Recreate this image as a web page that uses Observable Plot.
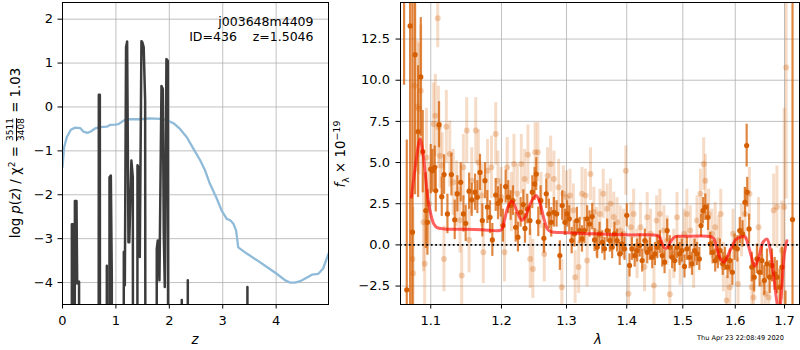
<!DOCTYPE html>
<html>
<head>
<meta charset="utf-8">
<script src="https://cdn.jsdelivr.net/npm/d3@7"></script>
<script src="https://cdn.jsdelivr.net/npm/@observablehq/plot@0.6"></script>
<style>
  html, body { margin: 0; padding: 0; background: #fff; }
  #wrap { position: relative; width: 800px; height: 350px; font-family: "DejaVu Sans", sans-serif; color: #000; overflow: hidden; }
  #wrap svg { position: absolute; top: 0; }
  .lab { position: absolute; white-space: nowrap; font-size: 13.3px; line-height: 1; }
  .rot { transform: translate(-50%, -50%) rotate(-90deg); }
  .frac { display: inline-flex; flex-direction: column; vertical-align: middle; font-size: 9px; line-height: 1; text-align: center; margin: 0 1px; }
  .frac span:first-child { border-bottom: 0.8px solid #000; padding-bottom: 0.5px; }
  .frac span:last-child { padding-top: 0.5px; }
</style>
</head>
<body>
<div id="wrap"></div>
<script>
// ---------------- Left panel: p(z) ----------------
const zTicks = [0, 1, 2, 3, 4];
const logpTicks = [-4, -3, -2, -1, 0, 1, 2];

// prior curve (blue)
const priorZ = [0, 0.03, 0.08, 0.156, 0.237, 0.33, 0.39, 0.468, 0.53, 0.61, 0.705, 0.83, 0.89, 0.986, 1.05, 1.14, 1.235, 1.45, 1.64, 1.83, 1.95, 2.077, 2.2, 2.327, 2.45, 2.58, 2.67, 2.76, 2.89, 2.98, 3.075, 3.14, 3.2, 3.25, 3.29, 3.45, 3.64, 3.82, 4.01, 4.17, 4.26, 4.35, 4.45, 4.57, 4.67, 4.79, 4.88, 4.98];
const priorLogp = [-1.37, -0.92, -0.69, -0.52, -0.47, -0.48, -0.56, -0.59, -0.56, -0.49, -0.46, -0.45, -0.41, -0.40, -0.39, -0.31, -0.28, -0.28, -0.26, -0.27, -0.30, -0.37, -0.50, -0.69, -0.95, -1.22, -1.45, -1.75, -2.09, -2.36, -2.55, -2.58, -2.66, -2.81, -3.20, -3.34, -3.49, -3.64, -3.80, -3.95, -4.00, -4.00, -3.97, -3.89, -3.82, -3.80, -3.68, -3.34];

// posterior log p(z) (black)
const pzZ = [0, 0.17, 0.175, 0.2, 0.212, 0.232, 0.262, 0.275, 0.31, 0.33, 0.665, 0.68, 0.699, 0.712, 0.82, 0.83, 0.84, 0.872, 0.88, 0.905, 0.923, 0.935, 1.13, 1.148, 1.167, 1.19, 1.21, 1.235, 1.25, 1.29, 1.316, 1.34, 1.39, 1.404, 1.425, 1.447, 1.478, 1.497, 1.52, 1.547, 1.57, 1.75, 1.765, 1.784, 1.815, 1.853, 1.878, 1.896, 1.915, 1.946, 1.971, 2.0, 2.225, 2.233, 2.24, 2.34, 2.346, 2.355, 3.455, 3.462, 3.47, 4.98];
const pzLogp = [-30, -30, -2.67, -2.67, -30, -2.14, -2.14, -4.02, -3.98, -30, -30, 0.28, 0.28, -30, -30, -3.62, -30, -30, -1.6, -1.56, -3.87, -30, -30, -3.3, -4.06, 1.36, 1.49, -3.08, -3.08, -1.22, -1.6, -30, -30, -1.33, -1.38, -3.42, 1.5, 1.47, 1.36, 0.14, -30, -30, -3.23, -3.04, -3.95, 0.48, 0.41, -2.89, -4.1, 1.09, 1.05, -30, -30, -4.4, -30, -30, -3.95, -30, -30, -4.1, -30, -30];

const annotLines = ["j003648m4409", "ID=436\u00a0\u00a0\u00a0\u00a0z=1.5046"];

// ---------------- Right panel: spectrum ----------------
const lamTicks = [1.1, 1.2, 1.3, 1.4, 1.5, 1.6, 1.7];
const fluxTicks = [-2.5, 0, 2.5, 5, 7.5, 10, 12.5];

// darker spectrum points
const lamD = [1.0645, 1.0680, 1.0724, 1.0755, 1.0790, 1.0830, 1.0866, 1.0892, 1.0933, 1.0955, 1.1000, 1.1023, 1.1054, 1.1068, 1.1113, 1.1150, 1.1182, 1.1228, 1.1283, 1.1329, 1.1366, 1.1413, 1.1451, 1.1483, 1.1531, 1.1568, 1.1616, 1.1649, 1.1687, 1.1721, 1.1759, 1.1793, 1.1832, 1.1866, 1.1915, 1.1949, 1.1988, 1.2022, 1.2062, 1.2101, 1.2136, 1.2171, 1.2211, 1.2246, 1.2286, 1.2327, 1.2352, 1.2387, 1.2428, 1.2464, 1.2499, 1.2525, 1.2556, 1.2592, 1.2643, 1.2680, 1.2721, 1.2758, 1.2800, 1.2842, 1.2894, 1.2931, 1.2974, 1.3011, 1.3044, 1.3083, 1.3128, 1.3167, 1.3211, 1.3250, 1.3289, 1.3334, 1.3373, 1.3417, 1.3456, 1.3500, 1.3539, 1.3584, 1.3623, 1.3667, 1.3712, 1.3751, 1.3790, 1.3834, 1.3879, 1.3918, 1.3962, 1.4000, 1.4048, 1.4089, 1.4137, 1.4179, 1.4226, 1.4268, 1.4315, 1.4357, 1.4405, 1.4446, 1.4494, 1.4536, 1.4583, 1.4625, 1.4667, 1.4714, 1.4762, 1.4804, 1.4851, 1.4893, 1.4940, 1.4982, 1.5031, 1.5075, 1.5126, 1.5170, 1.5220, 1.5264, 1.5308, 1.5340, 1.5377, 1.5421, 1.5472, 1.5516, 1.5560, 1.5610, 1.5660, 1.5704, 1.5755, 1.5799, 1.5849, 1.5893, 1.5943, 1.5987, 1.6041, 1.6089, 1.6144, 1.6192, 1.6226, 1.6237, 1.6274, 1.6329, 1.6377, 1.6432, 1.6486, 1.6534, 1.6582, 1.6637, 1.6692, 1.6740, 1.6795, 1.6842, 1.6897, 1.6945, 1.7020, 1.7168];
const fluxD = [22.0, -2.73, 13.3, 0.77, 11.55, 6.88, 10.2, 5.66, 2.08, 1.37, 4.6, 4.5, 4.71, 3.3, 7.3, 2.93, 4.27, 1.88, 4.27, 1.52, 3.1, 3.8, 1.88, 1.31, 3.26, 2.73, 3.2, 2.9, 4.4, 1.48, 3.9, 2.3, 1.68, 0.3, 3.03, 2.53, 2.69, 1.17, 3.54, 2.9, 2.39, 2.69, 1.07, 0.47, 1.98, 2.45, 1.0, 2.18, 1.48, 3.2, 3.7, 4.3, 1.4, 2.69, 0.4, 3.1, 1.88, 1.37, 1.98, 1.88, -0.65, 2.39, 1.37, 1.88, 1.58, 0.26, 0.67, 1.48, 0.87, 0.36, 0.87, 1.58, 1.27, 1.72, 0.3, -0.14, 0.67, 0.16, -0.24, 0.87, 0.26, -0.14, 0.67, 0.26, -0.55, 0.06, -0.24, 1.8, -1.25, -0.24, -0.65, -0.34, -0.04, -0.95, 0.26, -0.45, -0.24, -0.75, -0.55, -0.14, 0.16, -0.65, -1.05, 0.87, -0.14, -0.75, -0.95, -0.14, -0.55, -0.34, -1.31, -0.24, -0.75, -1.15, -0.34, -0.55, -0.85, 1.17, 2.08, 2.29, 1.68, 0.06, -0.45, -0.95, -0.75, -0.34, -1.15, -0.85, -1.35, -0.95, -1.66, -0.14, -0.24, 0.87, 0.67, 2.59, 6.03, 3.2, 0.97, -1.35, -1.96, -0.85, -1.66, -0.95, -2.16, -1.15, -1.96, -1.25, -1.76, -1.96, -2.57, -1.35, -5.0, 1.54];
const errD = [12.3, 9.1, 18, 15, 8.5, 4, 3.6, 2.5, 2.3, 2.0, 1.5, 1.3, 1.3, 1.3, 1.4, 1.2, 1.2, 1.2, 1.3, 1.2, 1.1, 1.2, 1.1, 1.1, 1.1, 1.0, 1.1, 1.0, 1.1, 1.0, 1.1, 1.0, 1.0, 1.0, 1.0, 1.0, 1.0, 1.0, 1.0, 1.0, 0.9, 0.9, 0.9, 0.9, 0.9, 0.9, 0.9, 0.9, 0.9, 1.0, 1.0, 1.0, 0.9, 0.9, 0.9, 0.9, 0.9, 0.9, 0.9, 0.8, 0.9, 0.9, 0.8, 0.8, 0.8, 0.8, 0.8, 0.8, 0.8, 0.8, 0.8, 0.8, 0.8, 0.8, 0.7, 0.7, 0.7, 0.7, 0.7, 0.7, 0.7, 0.7, 0.7, 0.7, 0.7, 0.7, 0.7, 0.7, 0.7, 0.7, 0.7, 0.7, 0.7, 0.7, 0.7, 0.7, 0.7, 0.7, 0.7, 0.7, 0.7, 0.7, 0.7, 0.7, 0.7, 0.7, 0.7, 0.7, 0.7, 0.7, 0.7, 0.7, 0.7, 0.7, 0.7, 0.7, 0.7, 0.7, 0.8, 0.8, 0.8, 0.7, 0.7, 0.7, 0.7, 0.7, 0.7, 0.7, 0.7, 0.7, 0.8, 0.8, 0.8, 0.8, 0.8, 0.9, 1.3, 0.9, 0.9, 0.9, 0.9, 0.9, 0.9, 0.9, 0.9, 0.9, 1.0, 1.0, 1.0, 1.0, 1.1, 1.2, 2.2, 25];

// lighter spectrum points
const lamF = [1.0755, 1.0764, 1.0778, 1.0821, 1.0843, 1.0866, 1.0902, 1.0919, 1.0942, 1.0978, 1.1038, 1.1062, 1.1095, 1.1104, 1.1128, 1.1156, 1.1180, 1.1213, 1.1261, 1.1308, 1.1356, 1.1403, 1.1427, 1.1450, 1.1498, 1.1531, 1.1569, 1.1626, 1.1664, 1.1711, 1.1735, 1.1796, 1.1853, 1.1915, 1.1948, 1.1995, 1.2045, 1.2085, 1.2146, 1.2186, 1.2236, 1.2297, 1.2347, 1.2397, 1.2432, 1.2473, 1.2508, 1.2549, 1.2599, 1.2649, 1.2700, 1.2749, 1.2800, 1.2875, 1.2925, 1.2950, 1.3000, 1.3056, 1.3111, 1.3139, 1.3195, 1.3250, 1.3306, 1.3334, 1.3389, 1.3445, 1.3489, 1.3545, 1.3601, 1.3667, 1.3723, 1.3778, 1.3834, 1.3890, 1.3945, 1.3984, 1.4030, 1.4071, 1.4119, 1.4179, 1.4238, 1.4309, 1.4357, 1.4417, 1.4476, 1.4524, 1.4583, 1.4655, 1.4714, 1.4762, 1.4833, 1.4893, 1.4952, 1.5025, 1.5075, 1.5138, 1.5201, 1.5264, 1.5327, 1.5390, 1.5421, 1.5484, 1.5547, 1.5610, 1.5673, 1.5717, 1.5767, 1.5830, 1.5893, 1.5956, 1.6055, 1.6123, 1.6192, 1.6281, 1.6329, 1.6363, 1.6466, 1.6534, 1.6603, 1.6671, 1.6774, 1.6842, 1.6945, 1.6993, 1.7034];
const fluxF = [-0.85, -1.72, 9.67, 8.4, 8.25, 9.36, 1.37, -1.15, 5.3, 2.5, 7.34, 7.85, 13.77, 7.14, 5.42, 4.81, -0.85, 7.18, 5.52, 3.8, 3.1, 1.5, -1.86, 4.71, 6.94, 0.3, 3.9, 6.94, 5.0, 3.0, -0.45, 4.5, 4.71, 6.74, 3.9, 2.9, -0.45, 4.71, 2.6, 4.91, 3.1, 4.91, 4.0, 5.48, -0.85, -1.46, 5.62, 5.62, 2.7, -0.55, 4.2, 4.91, 4.0, 3.5, -2.57, 3.1, 2.9, 3.0, 2.1, -1.96, -1.35, 3.1, 3.0, -0.95, 4.3, 2.0, 0.77, 1.88, 3.1, 2.2, 2.5, 1.7, 1.37, 0.87, 0.67, 4.51, -2.97, 1.07, 1.88, -0.55, 1.07, -1.35, 1.68, 0.67, -2.47, 1.48, 1.88, 0.87, 0.26, -3.0, -0.55, 1.68, -0.95, 0.67, 1.88, 0.87, -1.15, 1.48, 3.1, 4.91, 3.9, 1.88, 0.67, 1.07, 0.26, 1.88, -1.35, -3.38, -2.57, 0.67, -2.37, 0.87, 1.88, 3.1, -2.57, -3.2, 1.07, -2.37, -2.97, -3.2, 2.1, 2.3, -0.34, 2.3, 10.78];
const errF = [4, 4, 5, 4, 4, 4, 3, 3, 3, 2.5, 2.5, 2.5, 1.8, 2.5, 2, 2, 2, 2.2, 2, 2, 2, 2, 1.8, 2, 2, 2, 2, 2, 2, 1.9, 1.9, 1.9, 1.9, 1.9, 1.8, 1.8, 1.8, 1.8, 1.8, 1.8, 1.8, 1.8, 1.8, 1.8, 1.8, 1.8, 1.8, 1.8, 1.7, 1.7, 1.7, 1.7, 1.7, 1.7, 1.7, 1.7, 1.6, 1.6, 1.6, 1.6, 1.6, 1.6, 1.6, 1.6, 1.6, 1.5, 1.5, 1.5, 1.5, 1.5, 1.5, 1.5, 1.5, 1.5, 1.5, 1.5, 1.5, 1.5, 1.5, 1.5, 1.5, 1.5, 1.5, 1.5, 1.5, 1.5, 1.5, 1.5, 1.5, 1.5, 1.5, 1.5, 1.5, 1.5, 1.5, 1.5, 1.5, 1.5, 1.5, 1.6, 1.6, 1.5, 1.5, 1.5, 1.5, 1.5, 1.5, 1.5, 1.5, 1.5, 1.6, 1.6, 1.6, 1.6, 1.7, 1.7, 1.8, 1.8, 1.9, 2.0, 2.2, 2.5, 3, 6, 8];

// best-fit model (red)
const lamM = [1.0742, 1.0800, 1.0857, 1.0897, 1.0933, 1.0968, 1.1000, 1.1038, 1.1085, 1.1190, 1.1474, 1.1711, 1.1972, 1.2005, 1.2045, 1.2095, 1.2156, 1.2196, 1.2246, 1.2307, 1.2357, 1.2413, 1.2473, 1.2524, 1.2559, 1.2599, 1.2649, 1.2700, 1.2749, 1.3000, 1.3445, 1.4000, 1.4536, 1.4583, 1.4631, 1.4679, 1.4726, 1.4786, 1.4863, 1.5000, 1.5516, 1.5579, 1.5642, 1.5704, 1.5780, 1.5862, 1.5956, 1.6021, 1.6103, 1.6192, 1.6247, 1.6315, 1.6391, 1.6466, 1.6555, 1.6637, 1.6692, 1.6760, 1.6829, 1.6884, 1.6938, 1.6993, 1.7049];
const fluxM = [2.9, 5.0, 6.43, 5.5, 4.0, 2.6, 1.88, 1.3, 1.05, 0.97, 0.95, 0.92, 0.87, 0.95, 1.5, 2.29, 2.65, 2.4, 1.88, 1.5, 1.7, 2.3, 2.8, 3.0, 2.8, 2.3, 1.5, 0.95, 0.8, 0.74, 0.67, 0.61, 0.57, 0.45, 0.0, -0.22, -0.12, 0.25, 0.5, 0.52, 0.51, 0.4, -0.2, -0.8, -1.05, -0.6, 0.05, 0.35, 0.47, 0.5, 0.1, -0.65, -1.3, -0.8, 0.15, 0.35, -0.1, -1.5, -3.2, -4.2, -2.8, -0.6, 0.25];

// ---------------- build ----------------
const prior = priorZ.map((z, i) => ({z, p: priorLogp[i]}));
const pz = pzZ.map((z, i) => ({z, p: pzLogp[i]}));
const dark = lamD.map((l, i) => ({l, f: fluxD[i], e: errD[i]}));
const faint = lamF.map((l, i) => ({l, f: fluxF[i], e: errF[i]}));
const model = lamM.map((l, i) => ({l, f: fluxM[i]}));

const FONT = "DejaVu Sans, sans-serif";
const FS = "13px";
const GRID = "#b0b0b0";
const ORANGE = "#d55e00";

const left = Plot.plot({
  width: 330, height: 350,
  marginLeft: 62, marginRight: 2, marginTop: 2, marginBottom: 46,
  style: {fontFamily: FONT, fontSize: FS, background: "transparent", overflow: "visible", color: "#000"},
  x: {domain: [0, 4.98]},
  y: {domain: [-4.5, 2.38]},
  marks: [
    Plot.ruleX(zTicks, {stroke: GRID, strokeWidth: 0.8}),
    Plot.ruleY(logpTicks, {stroke: GRID, strokeWidth: 0.8}),
    Plot.line(prior, {x: "z", y: "p", stroke: "#8fbbd9", strokeWidth: 2.3, curve: "linear", clip: true}),
    Plot.line(pz, {x: "z", y: "p", stroke: "#3c3c3c", strokeWidth: 2.5, curve: "linear", clip: true}),
    Plot.text([annotLines.join("\n")], {frameAnchor: "top-right", textAnchor: "end", lineAnchor: "top", lineHeight: 1.2, dx: -15, dy: 13, fontSize: 12.5, fill: "#000"}),
    Plot.frame({stroke: "#000", strokeWidth: 1}),
    Plot.axisX(zTicks, {tickSize: 4.5, tickPadding: 7, tickFormat: "d", label: null}),
    Plot.axisY(logpTicks, {tickSize: 4.5, tickPadding: 5, tickFormat: "d", label: null})
  ]
});
left.style.left = "0px";

const right = Plot.plot({
  width: 470, height: 350,
  marginLeft: 70, marginRight: 1, marginTop: 2, marginBottom: 46,
  style: {fontFamily: FONT, fontSize: FS, background: "transparent", overflow: "visible", color: "#000"},
  x: {type: "log", domain: [1.0598, 1.7316]},
  y: {domain: [-3.62, 14.72]},
  marks: [
    Plot.ruleX(lamTicks, {stroke: GRID, strokeWidth: 0.8}),
    Plot.ruleY(fluxTicks, {stroke: GRID, strokeWidth: 0.8}),
    Plot.ruleX(faint, {x: "l", y1: d => d.f - d.e, y2: d => d.f + d.e, stroke: ORANGE, strokeOpacity: 0.22, strokeWidth: 3, clip: true}),
    Plot.dot(faint, {x: "l", y: "f", r: 3, fill: ORANGE, fillOpacity: 0.28, stroke: "none", clip: true}),
    Plot.ruleX(dark, {x: "l", y1: d => d.f - d.e, y2: d => d.f + d.e, stroke: ORANGE, strokeOpacity: 0.75, strokeWidth: 2.2, clip: true}),
    Plot.dot(dark, {x: "l", y: "f", r: 2.6, fill: ORANGE, stroke: "none", clip: true}),
    Plot.line(model, {x: "l", y: "f", stroke: "red", strokeOpacity: 0.62, strokeWidth: 3, curve: "catmull-rom", clip: true}),
    Plot.ruleY([0], {stroke: "#000", strokeWidth: 1.8, strokeDasharray: "1.8,2.6"}),
    Plot.frame({stroke: "#000", strokeWidth: 1}),
    Plot.axisX(lamTicks, {tickSize: 4.5, tickPadding: 7, tickFormat: ".1f", label: null}),
    Plot.axisY(fluxTicks, {tickSize: 4.5, tickPadding: 6, tickFormat: ".1f", label: null})
  ]
});
right.style.left = "330px";

const wrap = document.getElementById("wrap");
wrap.appendChild(left);
wrap.appendChild(right);

function addLabel(html, x, y, rotate, extra) {
  const d = document.createElement("div");
  d.className = "lab" + (rotate ? " rot" : "");
  d.innerHTML = html;
  d.style.left = x + "px";
  d.style.top = y + "px";
  if (!rotate) d.style.transform = "translate(-50%, -50%)";
  if (extra) Object.assign(d.style, extra);
  wrap.appendChild(d);
}
addLabel('log <i>p</i>(<i>z</i>) / χ<sup style="font-size:9px">2</sup> = <span class="frac"><span>3511</span><span>3408</span></span> = 1.03', 16, 153, true);
addLabel('<i>z</i>', 195, 340, false);
addLabel('<i>f</i><sub style="font-size:9.5px">λ</sub> × 10<sup style="font-size:9.5px">−19</sup>', 341, 154, true);
addLabel('<i>λ</i>', 598, 340, false);
const dt = document.createElement("div");
dt.className = "lab";
dt.textContent = "Thu Apr 23 22:08:49 2020";
Object.assign(dt.style, {fontSize: "6.6px", left: "697px", top: "335px"});
wrap.appendChild(dt);
</script>
</body>
</html>
